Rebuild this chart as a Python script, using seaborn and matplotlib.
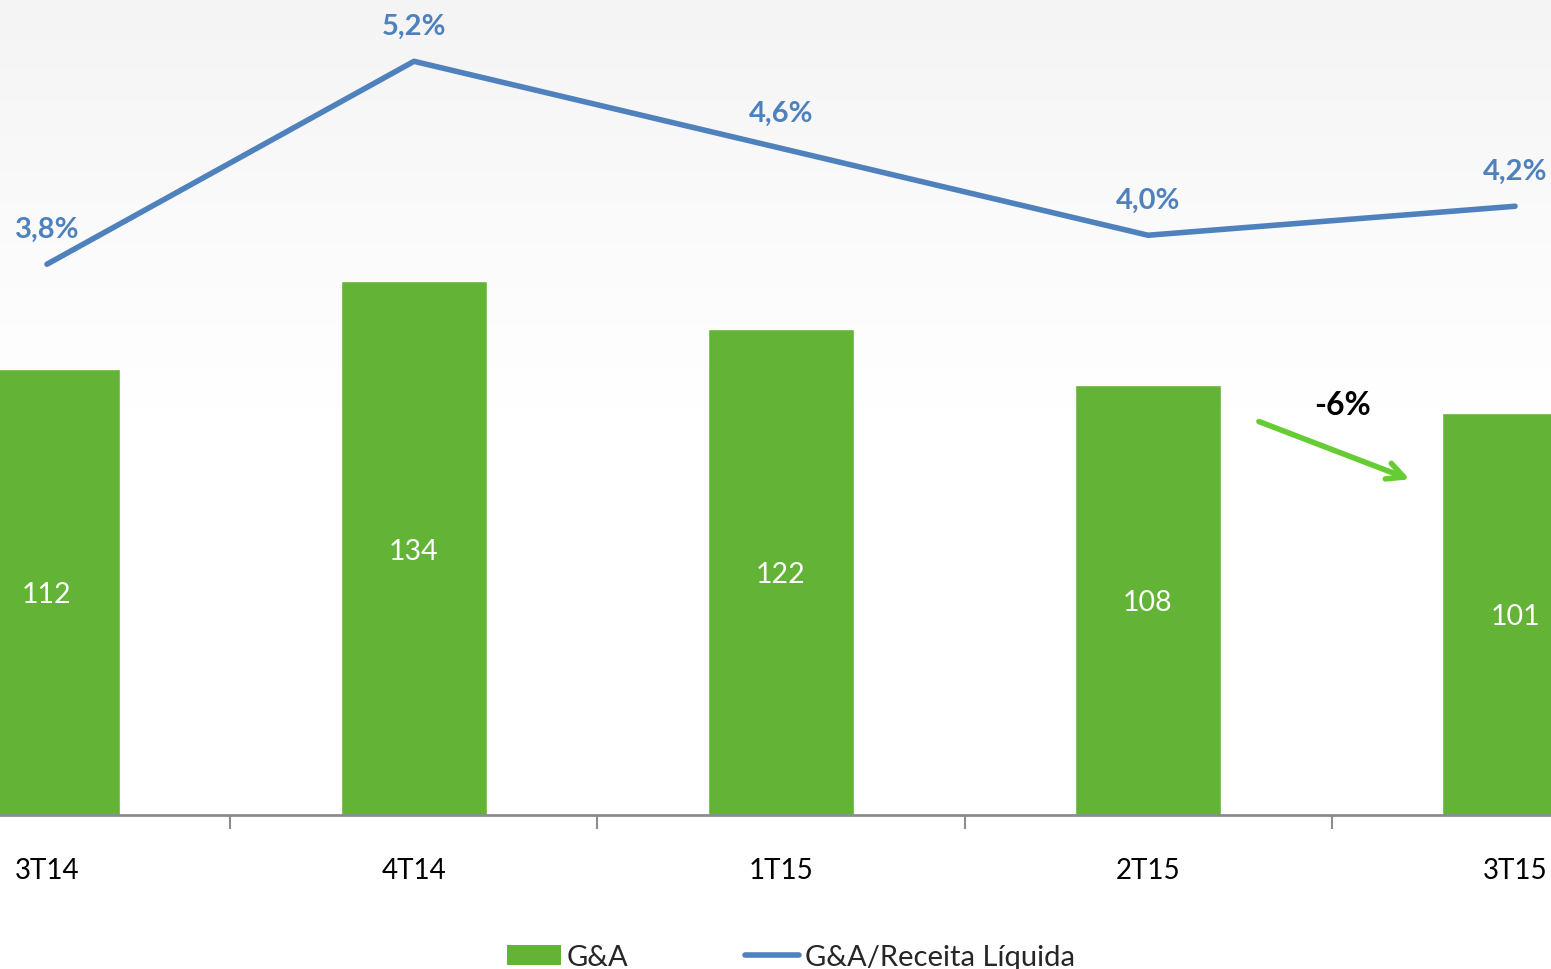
import numpy as np
import matplotlib
matplotlib.use("Agg")
import matplotlib.pyplot as plt
import seaborn as sns
from matplotlib.patches import Patch
from matplotlib.lines import Line2D

quarters = ["3T14", "4T14", "1T15", "2T15", "3T15"]
ga_values = [112, 134, 122, 108, 101]
ga_ratio = [3.8, 5.2, 4.6, 4.0, 4.2]
ratio_labels = ["3,8%", "5,2%", "4,6%", "4,0%", "4,2%"]
change_label = "-6%"

bar_green = "#62b336"
line_blue = "#4f81bd"
arrow_green = "#66cc33"

sns.set_theme(style="white")
plt.rcParams["font.family"] = ["Lato", "DejaVu Sans"]

fig = plt.figure(figsize=(15.51, 9.70), dpi=100)
ax = fig.add_axes([0, 0.1588, 1, 0.8412])

# soft grey wash at the top of the slide
grad = np.linspace(0, 1, 256).reshape(-1, 1)
ax.imshow(grad, extent=[0, 1, 0, 1], transform=ax.transAxes, aspect="auto",
          origin="lower",
          cmap=matplotlib.colors.LinearSegmentedColormap.from_list(
              "bg", [(0, "#ffffff"), (0.5, "#ffffff"), (0.75, "#fafafa"),
                     (1, "#f4f4f4")]),
          zorder=0)

sns.barplot(x=quarters, y=ga_values, color=bar_green, width=0.4,
            saturation=1, ax=ax, zorder=2)
ax.set_xlim(-0.128, 4.098)
ax.set_ylim(0, 204.8)

for i, v in enumerate(ga_values):
    ax.text(i, v / 2, str(v), ha="center", va="center_baseline",
            color="white", fontsize=20.5, zorder=3)

ax2 = ax.twinx()
sns.pointplot(x=quarters, y=ga_ratio, color=line_blue, markers="",
              linewidth=4, ax=ax2, zorder=4)
ax2.set_ylim(0, 5.63)
ax2.set_xlim(-0.128, 4.098)
for i, (v, lab) in enumerate(zip(ga_ratio, ratio_labels)):
    ax2.annotate(lab, (i, v), xytext=(0, 16), textcoords="offset points",
                 ha="center", va="bottom", color=line_blue, fontsize=21,
                 fontweight="bold")

# -6% arrow between 2T15 and 3T15
ax.annotate("", xy=(3.72, 84), xytext=(3.295, 99),
            arrowprops=dict(arrowstyle="->", color=arrow_green, lw=4,
                            mutation_scale=30), zorder=5)
ax.text(3.53, 103, change_label, ha="center", va="center", fontsize=23,
        fontweight="bold", color="black")

for a in (ax, ax2):
    for s in ["top", "right", "left"]:
        a.spines[s].set_visible(False)
    a.set_yticks([])
    a.set_ylabel("")
ax2.spines["bottom"].set_visible(False)
ax.spines["bottom"].set_color("#8c8c8c")
ax.spines["bottom"].set_linewidth(2)
ax.spines["bottom"].set_zorder(6)

ax.set_xticks(range(len(quarters)))
ax.set_xticklabels(quarters)
ax.set_xticks([0.5, 1.5, 2.5, 3.5], minor=True)
ax.tick_params(axis="x", which="major", length=0, pad=30, labelsize=20,
               labelcolor="black")
ax.tick_params(axis="x", which="minor", length=10, width=1.5,
               color="#8c8c8c", direction="out", bottom=True)
ax2.tick_params(axis="x", length=0, labelbottom=False)

handles = [Patch(facecolor=bar_green, edgecolor="none", label="G&A"),
           Line2D([0], [0], color=line_blue, lw=4, label="G&A/Receita Líquida")]
fig.legend(handles=handles, loc="center", bbox_to_anchor=(0.51, 0.012),
           ncol=2, frameon=False, fontsize=21, handlelength=1.85,
           handletextpad=0.2, columnspacing=4.0, handleheight=0.65)

fig.savefig("out.png", dpi=100)
